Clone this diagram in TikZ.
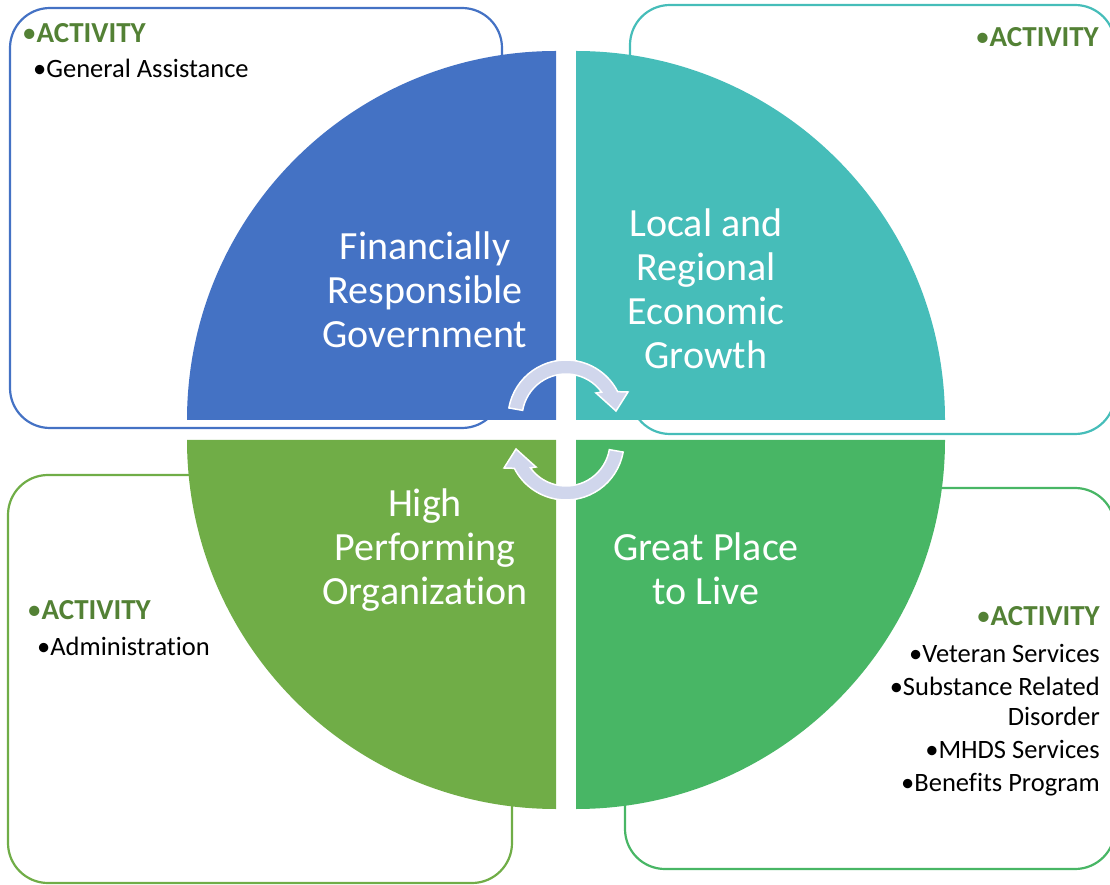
\documentclass[tikz,border=0pt]{standalone}
\usepackage{fontspec}
\setmainfont{Carlito}[Ligatures=NoCommon]
\usetikzlibrary{calc}
\definecolor{royal}{RGB}{68,114,196}
\definecolor{lagoon}{RGB}{70,189,185}
\definecolor{moss}{RGB}{112,173,71}
\definecolor{meadow}{RGB}{72,182,101}
\definecolor{fern}{RGB}{83,129,53}
\definecolor{lilac}{RGB}{208,214,236}
\newcommand{\bul}{{\mdseries•}}
\tikzset{
  frame/.style={draw=#1,line width=2.2pt,rounded corners=40pt},
  quarter/.style={fill=#1},
  label/.style={text=white,font=\fontsize{40}{44}\selectfont,align=center},
  head/.style={text=fern,font=\fontsize{29}{34}\selectfont\bfseries,inner sep=0pt},
  item/.style={font=\fontsize{26.5}{30}\selectfont,inner sep=0pt},
  arrow body/.style={fill=lilac,draw=white,line width=1.5pt},
  % curved arrow turning clockwise round its hub
  pics/turn arrow/.style={code={
    \path[arrow body] (170:58) arc[start angle=170,end angle=27,radius=58]
      -- (62,26) -- (50,7) -- (30,25)
      -- (36:44) arc[start angle=36,end angle=170,radius=44] -- cycle;
  }},
}
\begin{document}
\begin{tikzpicture}[x=1pt,y=1pt]
  \clip (0,0) rectangle (1110,884);
  % activity frames behind the wheel
  \draw[frame=royal]  (10,456) rectangle (502,876);
  \draw[frame=lagoon] (630,450) rectangle (1115,879);
  \draw[frame=moss]   (8,1) rectangle (512,409);
  \draw[frame=meadow] (625,15) rectangle (1115,396);
  % the four quarters
  \fill[quarter=royal]  (556,464) -- (187,464) arc[start angle=180,end angle=90,radius=369] -- cycle;
  \fill[quarter=lagoon] (576,464) -- (576,833) arc[start angle=90,end angle=0,radius=369] -- cycle;
  \fill[quarter=moss]   (556,444) -- (556,75) arc[start angle=270,end angle=180,radius=369] -- cycle;
  \fill[quarter=meadow] (576,444) -- (945,444) arc[start angle=0,end angle=-90,radius=369] -- cycle;
  \pic at (566,466) {turn arrow};
  \pic[rotate=180] at (566,442) {turn arrow};
  \node[label] (frg)  at (425,594) {Financially\\Responsible\\Government};
  \node[label] (lreg) at (706,595) {Local and\\Regional\\Economic\\Growth};
  \node[label] (hpo)  at (425,334) {High\\Performing\\Organization};
  \node[label] (gpl)  at (706,315) {Great Place\\to Live};
  % activity lists
  \node[head,anchor=base west] (act1) at (22,841) {\bul ACTIVITY};
  \node[item,anchor=base west] (gen) at (33,806) {•General Assistance};
  \node[head,anchor=base east] (act2) at (1099,837) {\bul ACTIVITY};
  \node[head,anchor=base west] (act3) at (27,265) {\bul ACTIVITY};
  \node[item,anchor=base west] (adm) at (37,229) {•Administration};
  \node[head,anchor=base east] (act4) at (1100,259) {\bul ACTIVITY};
  \node[item,anchor=base east,align=right] (svc) at (1100,93)
    {•Veteran Services\\[3pt]•Substance Related\\Disorder\\[3pt]•MHDS Services\\[3pt]•Benefits Program};
\end{tikzpicture}
\end{document}
